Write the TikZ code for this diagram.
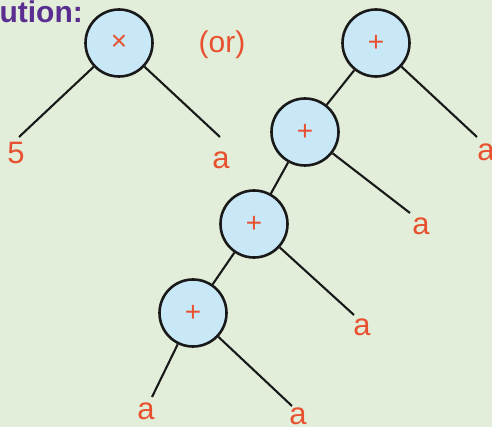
\documentclass[tikz,border=0pt]{standalone}
\usepackage{fontspec}
\setmainfont{Liberation Sans}
\definecolor{bg}{HTML}{E2EEDA}
\definecolor{nodefill}{HTML}{C8E8F8}
\definecolor{txt}{HTML}{E8512F}
\definecolor{ttl}{HTML}{5A2E91}
\tikzset{
  opnode/.style={circle,draw=black!90,line width=2.6pt,fill=nodefill,minimum size=67pt,inner sep=0pt,text=txt,font=\fontsize{28}{28}\selectfont},
  leaf/.style={text=txt,inner sep=0pt,font=\fontsize{31}{31}\selectfont},
  edge/.style={draw=black!90,line width=2.1pt}
}
\begin{document}
\begin{tikzpicture}[x=1pt,y=-1pt]
\useasboundingbox (0,0) rectangle (492,427);
\clip (0,0) rectangle (492,427);
\fill[bg] (0,0) rectangle (492,427);
\node[anchor=base east,text=ttl,inner sep=0pt,font=\fontsize{30}{30}\selectfont\bfseries] (title) at (83,23) {Solution:};
\node[leaf,font=\fontsize{30}{30}\selectfont] (or) at (222,45) {(or)};
% first tree
\node[opnode] (m) at (119,43) {×};
\coordinate (m1) at (19,137);
\coordinate (m2) at (220,137);
\node[leaf] (lm1) at (16,153) {5};
\node[leaf] (lm2) at (221,160) {a};
\draw[edge] (m) -- (m1);
\draw[edge] (m) -- (m2);
% second tree
\node[opnode] (p1) at (376,43) {+};
\node[opnode] (p2) at (305,132) {+};
\node[opnode] (p3) at (254,224) {+};
\node[opnode] (p4) at (193,313) {+};
\coordinate (e1) at (477,137);
\coordinate (e2) at (410,213);
\coordinate (e3) at (354,315);
\coordinate (e4) at (152,397);
\coordinate (e5) at (292,406);
\node[leaf] (a1) at (486,152) {a};
\node[leaf] (a2) at (421,226) {a};
\node[leaf] (a3) at (362,327) {a};
\node[leaf] (a4) at (146,411) {a};
\node[leaf] (a5) at (298,416) {a};
\draw[edge] (p1) -- (p2);
\draw[edge] (p2) -- (p3);
\draw[edge] (p3) -- (p4);
\draw[edge] (p1) -- (e1);
\draw[edge] (p2) -- (e2);
\draw[edge] (p3) -- (e3);
\draw[edge] (p4) -- (e4);
\draw[edge] (p4) -- (e5);
\end{tikzpicture}
\end{document}
